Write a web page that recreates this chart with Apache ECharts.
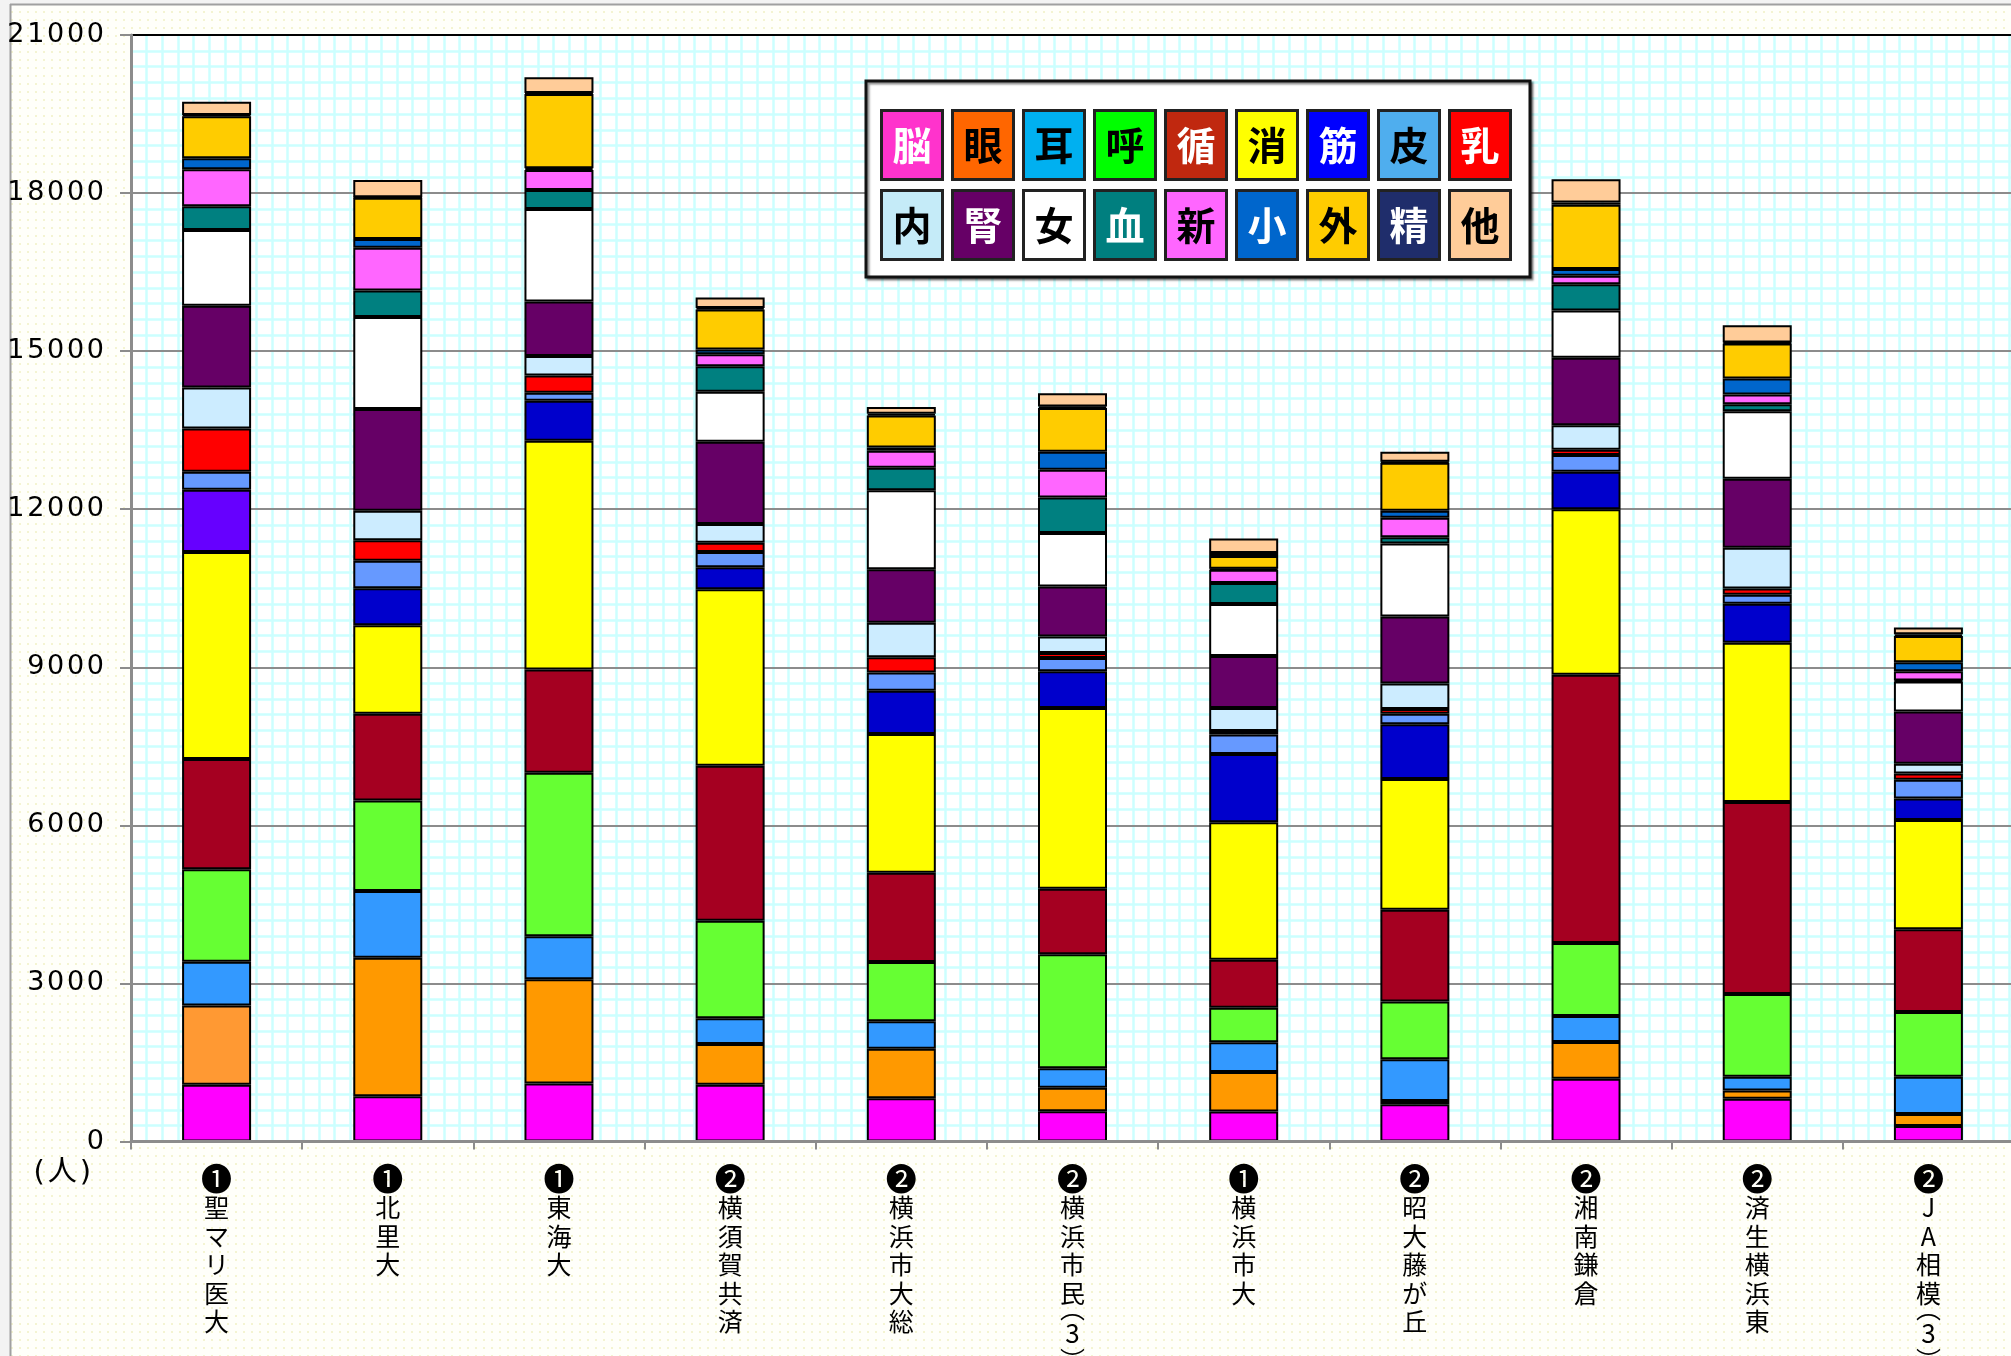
<!DOCTYPE html>
<html><head><meta charset="utf-8">
<script src="https://cdn.jsdelivr.net/npm/echarts@6/dist/echarts.min.js"></script>
<style>html,body{margin:0;padding:0;background:#f3f3f3}#c{width:2011px;height:1356px}</style>
</head><body><div id="c"></div>
<script>
// ---- data ----
const categories = ['❶聖マリ医大','❶北里大','❶東海大','❷横須賀共済','❷横浜市大総','❷横浜市民︵3︶','❶横浜市大','❷昭大藤が丘','❷湘南鎌倉','❷済生横浜東','❷JA相模︵3︶'];
const seriesNames = ['脳','眼','耳','呼','循','消','筋','皮','乳','内','腎','女','血','新','小','外','精','他'];
const yTicks = [0,3000,6000,9000,12000,15000,18000,21000];

const nou   = [1075, 860,1100,1075, 820, 575, 570, 705,1190, 810, 295];
const gan   = [1505,2625,1980, 775, 940, 445, 750,  65, 700, 160, 225];
const mimi  = [ 830,1270, 815, 490, 520, 370, 565, 790, 490, 260, 710];
const kokyu = [1755,1715,3105,1850,1125,2165, 655,1095,1385,1570,1230];
const junkan= [2095,1650,1960,2940,1695,1240, 910,1745,5095,3645,1570];
const shoka = [3930,1680,4340,3350,2635,3430,2610,2480,3140,3020,2070];
const kin   = [1180, 700, 760, 420, 820, 700,1295,1040, 710, 740, 410];
const hifu  = [ 340, 520, 150, 290, 345, 250, 370, 200, 320, 170, 355];
const nyu   = [ 820, 390, 330, 175, 290,  95,  65,  90, 100, 120, 120];
const naibun= [ 780, 560, 370, 355, 655, 315, 435, 480, 465, 775, 185];
const jin   = [1550,1930,1030,1560,1015, 950, 990,1275,1280,1310, 990];
const jo    = [1440,1750,1760, 950,1500,1015, 985,1385, 895,1280, 570];
const ketsu = [ 450, 500, 360, 485, 425, 670, 400, 120, 500, 130,  20];
const shin  = [ 700, 810, 380, 225, 325, 530, 250, 370, 160, 185, 175];
const shoni = [ 210, 170,  30,  90,  60, 340,  20, 130, 130, 305, 170];
const geka  = [ 800, 780,1410, 760, 610, 830, 240, 910,1220, 665, 500];
const seishin=[  20,  10,  20,  30,  30,  30,  60,  20,  40,  20,  30];
const other = [ 255, 330, 300, 200, 130, 250, 275, 190, 440, 325, 130];
const seriesValues = [nou,gan,mimi,kokyu,junkan,shoka,kin,hifu,nyu,naibun,jin,jo,ketsu,shin,shoni,geka,seishin,other];

// ---- styles ----
const barColors = ['#FF00FF','#FF9900','#3399FF','#66FF33','#A50021','#FFFF00','#0000CC','#6699FF','#FF0000','#CCECFF','#660066','#FFFFFF','#008080','#FF66FF','#0066CC','#FFCC00','#1F2D6B','#FFCC99'];
const firstBarOverride = {1:'#FF9933', 6:'#6600FF'};
const legendBg = ['#FF33CC','#FF6600','#00B0F0','#00FF00','#C0280F','#FFFF00','#0000FF','#4FAEEE','#FF0000','#C5EBF8','#660066','#FFFFFF','#007F7F','#FF66FF','#0066CC','#FFCC00','#1F2D6B','#FFCC99'];
const legendFg = ['#fff','#000','#000','#000','#fff','#000','#fff','#000','#fff','#000','#fff','#000','#fff','#000','#fff','#000','#fff','#000'];

// dotted background pattern
const pc = document.createElement('canvas'); pc.width = 8; pc.height = 8;
const pctx = pc.getContext('2d');
pctx.fillStyle = '#fffffa'; pctx.fillRect(0,0,8,8);
pctx.fillStyle = '#f4f4d2'; pctx.fillRect(3,3,2,2);

const rich = {};
seriesNames.forEach((n,i)=>{
  rich['k'+i] = {width:58,height:66,lineHeight:66,align:'center',verticalAlign:'middle',
    backgroundColor:legendBg[i],borderColor:'#222',borderWidth:3,color:legendFg[i],
    fontSize:39,fontWeight:'bold',fontFamily:'Noto Sans CJK JP'};
});
const legendFmt = name => '{k'+seriesNames.indexOf(name)+'|'+name+'}';
const legendBase = {orient:'horizontal',left:877,itemWidth:0,itemHeight:0,itemGap:4,padding:0,
  selectedMode:false,icon:'rect',formatter:legendFmt,textStyle:{rich:rich},z:5};

const series = seriesNames.map((n,i)=>({
  name:n,type:'bar',stack:'total',barWidth:69,xAxisIndex:0,
  itemStyle:{color:barColors[i],borderColor:'#000',borderWidth:2},
  data:seriesValues[i].map((v,j)=> (j===0 && firstBarOverride[i]) ? {value:v,itemStyle:{color:firstBarOverride[i]}} : v)
}));

const xLabelFmt = v => Array.from(v).map((ch,i)=>{
  if (i===0) return '{c|'+ch+'}';
  if (ch==='︵') return '{po|'+ch+'}';
  if (ch==='︶') return '{pc|'+ch+'}';
  if (/[0-9]/.test(ch)) return '{d|'+ch+'}';
  return '{n|'+ch+'}';
}).join('\n');

const chart = echarts.init(document.getElementById('c'));
chart.setOption({
  animation:false,
  backgroundColor:{image:pc,repeat:'repeat'},
  graphic:[
    {type:'rect',shape:{x:0,y:0,width:10,height:1356},style:{fill:'#f3f3f3'},z:1},
    {type:'rect',shape:{x:0,y:0,width:2011,height:4},style:{fill:'#f3f3f3'},z:1},
    {type:'line',shape:{x1:10.5,y1:4,x2:10.5,y2:1356},style:{stroke:'#a0a0a0',lineWidth:2},z:1},
    {type:'line',shape:{x1:10,y1:4.5,x2:2011,y2:4.5},style:{stroke:'#a0a0a0',lineWidth:2},z:1},
    {type:'rect',shape:{x:866,y:81,width:664,height:196},
      style:{fill:'#fff',stroke:'#111',lineWidth:3,shadowColor:'rgba(0,0,0,0.45)',shadowOffsetX:2,shadowOffsetY:2,shadowBlur:2},z:4}
  ],
  legend:[
    Object.assign({top:109,data:seriesNames.slice(0,9)},legendBase),
    Object.assign({top:189,data:seriesNames.slice(9)},legendBase)
  ],
  grid:{left:131,top:35,width:1883,height:1106.5,show:true,backgroundColor:'#fff',borderWidth:0,
        containLabel:false,outerBoundsMode:'none'},
  xAxis:[
    {type:'category',data:categories,boundaryGap:true,z:3,
     axisLine:{lineStyle:{color:'#8c8c8c',width:3}},
     axisTick:{show:true,length:8,lineStyle:{color:'#8c8c8c',width:2}},
     axisLabel:{interval:0,margin:21,color:'#000',verticalAlign:'top',formatter:xLabelFmt,
       rich:{
         c:{fontSize:31,lineHeight:31,fontFamily:'Noto Sans CJK JP',color:'#000'},
         n:{fontSize:25,lineHeight:28.5,fontFamily:'Noto Sans CJK JP',color:'#000'},
         d:{fontSize:26,lineHeight:48,fontFamily:'Noto Sans CJK JP',color:'#000'},
         po:{fontSize:25,lineHeight:2,fontFamily:'Noto Sans CJK JP',color:'#000'},
         pc:{fontSize:25,lineHeight:6,fontFamily:'Noto Sans CJK JP',color:'#000'}
       }},
     splitLine:{show:false}},
    {type:'value',min:0,max:120.3,interval:1,position:'top',z:0,
     axisLine:{show:false},axisTick:{show:false},axisLabel:{show:false},
     splitLine:{show:true,lineStyle:{color:'#ccffff',width:2.5}}}
  ],
  yAxis:{type:'value',min:yTicks[0],max:yTicks[yTicks.length-1],interval:3000,z:1,
    name:'(\u200a人\u200a)',nameLocation:'start',nameGap:17,
    nameTextStyle:{fontSize:29,color:'#000',fontFamily:'DejaVu Sans, Noto Sans CJK JP',align:'right',verticalAlign:'top',padding:[0,40,0,0]},
    axisLine:{show:true,lineStyle:{color:'#8c8c8c',width:3}},
    axisTick:{show:true,length:11,lineStyle:{color:'#8c8c8c',width:2}},
    axisLabel:{margin:27,fontSize:27,color:'#000',fontFamily:'DejaVu Sans',formatter:v=>String(v).split('').join('\u200a')},
    splitLine:{show:true,lineStyle:{color:['#8c8c8c','#8c8c8c','#8c8c8c','#8c8c8c','#8c8c8c','#8c8c8c','#8c8c8c','#000'],width:2}},
    minorTick:{show:false,splitNumber:10},
    minorSplitLine:{show:true,lineStyle:{color:'#ccffff',width:2.5}}
  },
  series:series
});
</script></body></html>
